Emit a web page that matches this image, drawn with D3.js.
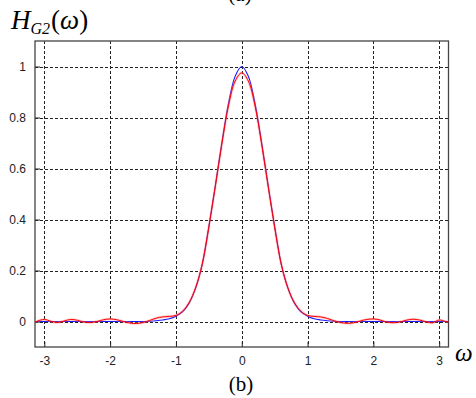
<!DOCTYPE html>
<html>
<head>
<meta charset="utf-8">
<script src="https://cdn.jsdelivr.net/npm/d3@7"></script>
<style>
  body { margin: 0; background: #fff; }
  svg { display: block; }
</style>
</head>
<body>
<svg id="chart" width="476" height="398"></svg>
<script>
// frequency samples (omega)
const omega = [-3.1416, -3.1, -3.0, -2.9, -2.8, -2.7, -2.6, -2.5, -2.4, -2.3, -2.2, -2.1,
  -2.0, -1.9, -1.8, -1.7, -1.6, -1.5, -1.4, -1.3, -1.2, -1.1, -1.0, -0.9, -0.8, -0.7,
  -0.6, -0.5, -0.4, -0.3, -0.2, -0.1, 0.0, 0.1, 0.2, 0.3, 0.4, 0.5, 0.6, 0.7, 0.8, 0.9,
  1.0, 1.1, 1.2, 1.3, 1.4, 1.5, 1.6, 1.7, 1.8, 1.9, 2.0, 2.1, 2.2, 2.3, 2.4, 2.5, 2.6,
  2.7, 2.8, 2.9, 3.0, 3.1, 3.1416];

// ideal response (blue)
const blueVals = [0, 0, 0, 0, 0, 0, 0, 0, 0, 0, 0, 0,
  0, 0, 0, 0, 0, 0, 0.001, 0.003, 0.006, 0.011, 0.021, 0.038, 0.072, 0.132,
  0.225, 0.372, 0.535, 0.705, 0.857, 0.962, 1.0, 0.962, 0.857, 0.705, 0.535, 0.372, 0.225, 0.132, 0.072, 0.038,
  0.021, 0.011, 0.006, 0.003, 0.001, 0, 0, 0, 0, 0, 0, 0, 0, 0, 0, 0, 0,
  0, 0, 0, 0, 0, 0];

// approximated response (red)
const redVals = [-0.003, 0.002, 0.008, 0.001, -0.004, 0.002, 0.008, 0.005, -0.002, -0.004, 0.000, 0.007,
  0.010, 0.007, 0.000, -0.006, -0.008, -0.004, 0.004, 0.013, 0.018, 0.020, 0.024, 0.040, 0.074, 0.133,
  0.225, 0.370, 0.533, 0.700, 0.848, 0.943, 0.975, 0.943, 0.848, 0.700, 0.533, 0.370, 0.225, 0.133, 0.074, 0.040,
  0.024, 0.020, 0.018, 0.012, 0.003, -0.004, -0.007, -0.005, 0.002, 0.008, 0.010, 0.006, -0.002, -0.005, -0.002, 0.005, 0.009,
  0.006, -0.001, -0.005, 0.006, 0.000, -0.002];

const xTicks = [-3, -2, -1, 0, 1, 2, 3];
const yTicks = [0, 0.2, 0.4, 0.6, 0.8, 1];

const svg = d3.select('#chart');
const plotL = 35, plotR = 448.5, plotT = 41, plotB = 347;

const x = d3.scaleLinear().domain([-Math.PI, Math.PI]).range([plotL, plotR]);
const y = d3.scaleLinear().domain([-0.1, 1.1]).range([plotB, plotT]);

// grid
const grid = svg.append('g')
  .attr('stroke', '#222')
  .attr('stroke-width', 1)
  .attr('stroke-dasharray', '3,2');

grid.selectAll('line.gx')
  .data(xTicks)
  .enter()
  .append('line')
  .attr('x1', d => Math.round(x(d)) + 0.5)
  .attr('x2', d => Math.round(x(d)) + 0.5)
  .attr('y1', plotT)
  .attr('y2', plotB);

grid.selectAll('line.gy')
  .data(yTicks)
  .enter()
  .append('line')
  .attr('x1', plotL)
  .attr('x2', plotR)
  .attr('y1', d => Math.round(y(d)) + 0.5)
  .attr('y2', d => Math.round(y(d)) + 0.5);

// axes (inward ticks like matlab), plain hyphen for minus
const xAxis = d3.axisBottom(x).tickValues(xTicks).tickSizeInner(-5).tickSizeOuter(0).tickPadding(9)
  .tickFormat(d => String(d));
const yAxis = d3.axisLeft(y).tickValues(yTicks).tickSizeInner(-5).tickSizeOuter(0).tickPadding(9)
  .tickFormat(d => String(d));

const gx = svg.append('g').attr('transform', `translate(0,${plotB})`).call(xAxis);
const gy = svg.append('g').attr('transform', `translate(${plotL},0)`).call(yAxis);
[gx, gy].forEach(g => {
  g.select('.domain').remove();
  g.selectAll('line').attr('stroke', '#222');
  g.selectAll('text')
    .attr('fill', '#222')
    .style('font-family', 'Arial, "Liberation Sans", sans-serif')
    .style('font-size', '12px');
});

// box
svg.append('rect')
  .attr('x', plotL)
  .attr('y', plotT)
  .attr('width', plotR - plotL)
  .attr('height', plotB - plotT)
  .attr('fill', 'none')
  .attr('stroke', '#444')
  .attr('stroke-width', 1.3);

// curves
const line = d3.line()
  .x((d, i) => x(omega[i]))
  .y(d => y(d))
  .curve(d3.curveCatmullRom.alpha(0.5));

const plot = svg.append('g');

plot.append('path')
  .attr('d', line(blueVals))
  .attr('fill', 'none')
  .attr('stroke', '#1a1aff')
  .attr('stroke-width', 1.1);

plot.append('path')
  .attr('d', line(redVals))
  .attr('fill', 'none')
  .attr('stroke', '#ff7070')
  .attr('stroke-opacity', 0.35)
  .attr('stroke-width', 2.6);

plot.append('path')
  .attr('d', line(redVals))
  .attr('fill', 'none')
  .attr('stroke', '#ff0000')
  .attr('stroke-width', 1);

// labels
const serif = '"Times New Roman", "Liberation Serif", "DejaVu Serif", serif';

const title = svg.append('text')
  .attr('x', 11)
  .attr('y', 29)
  .style('font-family', serif)
  .style('font-style', 'italic')
  .style('font-size', '27px');
title.append('tspan').text('H');
title.append('tspan').attr('dy', 5).style('font-size', '16px').text('G2');
title.append('tspan').attr('dy', -5).attr('dx', 1).style('font-style', 'normal').text('(');
title.append('tspan').text('ω');
title.append('tspan').style('font-style', 'normal').text(')');

svg.append('text')
  .attr('x', 455)
  .attr('y', 361)
  .style('font-family', serif)
  .style('font-style', 'italic')
  .style('font-size', '25px')
  .text('ω');

svg.append('text')
  .attr('x', 241)
  .attr('y', 391)
  .attr('text-anchor', 'middle')
  .style('font-family', serif)
  .style('font-size', '21px')
  .text('(b)');

svg.append('text')
  .attr('x', 240)
  .attr('y', 1)
  .attr('text-anchor', 'middle')
  .style('font-family', serif)
  .style('font-size', '21px')
  .text('(a)');
</script>
</body>
</html>
